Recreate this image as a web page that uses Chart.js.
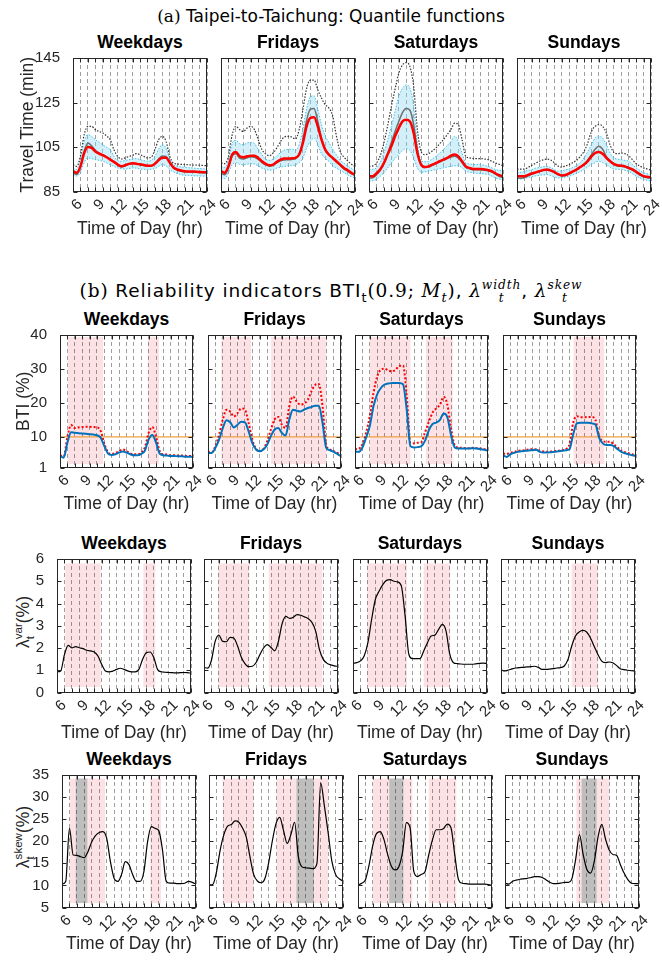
<!DOCTYPE html>
<html>
<head>
<meta charset="utf-8">
<title>Taipei-to-Taichung travel time reliability</title>
<script src="https://cdn.jsdelivr.net/npm/chart.js@4.4.1/dist/chart.umd.min.js"></script>
<style>
  body { margin: 0; background: #fff; }
  #fig { position: relative; width: 662px; height: 960px; overflow: hidden;
         font-family: "Liberation Sans", Arial, sans-serif; color: #262626; }
  #fig canvas { position: absolute; }
  .heading { position: absolute; left: 0; width: 662px; text-align: center; white-space: nowrap;
             font-family: "DejaVu Sans", sans-serif; line-height: 22px; color: #000; }
  .heading .rm { font-family: "DejaVu Serif", "Liberation Serif", serif; }
  .heading .it { font-family: "DejaVu Serif", "Liberation Serif", serif; font-style: italic; }
  .ptitle { position: absolute; text-align: center; font-weight: bold; font-size: 17.5px;
            line-height: 17.5px; color: #000; white-space: nowrap; }
  .ylab { position: absolute; transform: translate(-50%, -50%) rotate(-90deg);
          white-space: nowrap; font-size: 17.5px; line-height: 20px; color: #262626; }
  .ss { display: inline-flex; flex-direction: column; vertical-align: middle;
        font-size: 0.66em; line-height: 1.05; }
  .ss sup, .ss sub { vertical-align: baseline; font-size: 1em; line-height: 1.05; }
</style>
</head>
<body>
<div id="fig">
  <div class="heading" style="top:5px;font-size:17px"><span class="rm">(a)</span> Taipei-to-Taichung: Quantile functions</div>
  <div class="heading" style="top:279px;font-size:18.5px;letter-spacing:0.9px"><span class="rm">(b)</span> Reliability indicators BTI<sub style="font-size:0.7em">t</sub><span class="rm">(0.9; </span><span class="it">M</span><sub class="it" style="font-size:0.7em">t</sub><span class="rm">)</span>, <span class="it">λ</span><span class="ss it"><sup>width</sup><sub>t</sub></span>, <span class="it">λ</span><span class="ss it"><sup>skew</sup><sub>t</sub></span></div>
  <div class="ylab" style="left:24px;top:622px">λ<span class="ss"><sup>var</sup><sub>t</sub></span>(%)</div>
  <div class="ylab" style="left:24px;top:837px">λ<span class="ss"><sup>skew</sup><sub>t</sub></span>(%)</div>
</div>
<script>
// time axis, half-hour steps
var HOURS = [6, 6.5, 7, 7.5, 8, 8.5, 9, 9.5, 10, 10.5, 11, 11.5, 12, 12.5, 13, 13.5, 14, 14.5,
  15, 15.5, 16, 16.5, 17, 17.5, 18, 18.5, 19, 19.5, 20, 20.5, 21, 21.5, 22, 22.5, 23, 23.5, 24];
var X_MIN = 6, X_MAX = 24;
var xLabelHours = [6, 9, 12, 15, 18, 21, 24];
var DAY_NAMES = ['Weekdays', 'Fridays', 'Saturdays', 'Sundays'];

// y tick labels per row
var ttTicks = [85, 105, 125, 145];
var btiTicks = [1, 10, 20, 30, 40];
var varTicks = [0, 1, 2, 3, 4, 5, 6];
var skewTicks = [5, 10, 15, 20, 25, 30, 35];

// (a) travel time quantile functions (min)
var ttMedianWeekdays = [94.1, 93.4, 96.3, 102.3, 105.0, 104.6, 103.0, 102.0, 101.3, 100.4, 99.3, 98.3, 97.1, 96.3, 96.8, 97.4, 97.7, 97.5, 97.2, 96.9, 96.6, 96.6, 97.5, 99.0, 100.2, 100.2, 98.0, 95.8, 94.9, 94.4, 94.1, 94.0, 94.0, 93.9, 93.8, 93.7, 93.7];
var ttMeanWeekdays = [93.5, 92.6, 96.0, 103.0, 106.8, 105.5, 103.5, 102.3, 101.5, 100.6, 99.5, 98.4, 97.0, 96.0, 96.5, 97.2, 97.6, 97.4, 97.0, 96.7, 96.4, 96.5, 97.6, 99.6, 101.0, 100.8, 98.2, 95.6, 94.6, 94.1, 93.9, 93.8, 93.7, 93.6, 93.5, 93.4, 93.4];
var ttQ95Weekdays = [97.1, 96.3, 101.0, 110.5, 114.3, 114.3, 112.8, 112.0, 111.3, 110.0, 108.3, 103.8, 100.8, 99.6, 100.1, 100.7, 101.3, 102.0, 101.6, 100.8, 100.1, 100.4, 103.8, 108.3, 109.8, 107.5, 100.8, 97.8, 97.4, 97.2, 97.1, 97.0, 96.9, 96.9, 96.8, 96.7, 96.6];
var ttQ75Weekdays = [95.6, 94.9, 100.0, 107.5, 110.5, 109.8, 108.3, 107.2, 106.0, 104.9, 103.8, 100.8, 98.9, 98.6, 98.9, 99.3, 99.6, 99.8, 99.3, 98.9, 98.6, 99.0, 100.8, 104.0, 106.0, 104.5, 99.5, 97.0, 96.3, 96.0, 95.9, 95.7, 95.6, 95.4, 95.3, 95.2, 95.1];
var ttQ25Weekdays = [92.6, 91.9, 93.8, 98.0, 100.1, 99.8, 99.3, 99.0, 98.6, 97.9, 97.1, 96.3, 95.6, 95.2, 95.1, 95.3, 95.6, 95.5, 95.1, 95.0, 94.9, 95.0, 95.3, 96.2, 97.1, 96.5, 94.9, 93.8, 93.1, 92.6, 92.3, 92.2, 92.1, 92.0, 92.0, 91.9, 91.9];

var ttMedianFridays = [94.1, 93.4, 96.3, 101.6, 102.8, 100.8, 100.4, 100.8, 101.1, 101.1, 100.1, 98.6, 97.4, 96.8, 97.1, 98.3, 99.3, 99.8, 99.8, 99.9, 100.1, 101.6, 106.8, 114.3, 118.0, 118.4, 114.3, 108.3, 103.8, 101.6, 100.1, 98.6, 97.1, 95.6, 94.6, 93.4, 92.6];
var ttMeanFridays = [93.0, 92.5, 95.8, 101.0, 102.0, 100.0, 99.6, 100.2, 100.6, 100.4, 99.4, 98.0, 97.0, 96.4, 96.8, 98.0, 98.8, 99.2, 99.3, 99.4, 99.8, 101.8, 108.0, 117.0, 122.0, 122.3, 116.5, 109.0, 104.0, 101.5, 99.8, 98.2, 96.8, 95.2, 94.2, 93.0, 92.2];
var ttQ95Fridays = [97.8, 97.5, 100.8, 110.5, 114.3, 112.8, 112.0, 113.5, 114.3, 112.8, 108.3, 103.8, 101.9, 101.1, 102.3, 104.6, 107.5, 109.5, 109.8, 109.5, 108.6, 112.8, 121.7, 131.4, 135.1, 135.1, 130.7, 127.0, 124.0, 122.5, 119.0, 110.0, 103.0, 100.5, 98.8, 97.3, 96.3];
var ttQ75Fridays = [96.3, 95.8, 99.0, 106.5, 108.0, 106.5, 106.0, 106.8, 107.0, 106.5, 104.0, 101.5, 99.5, 99.0, 99.6, 101.0, 102.5, 103.5, 104.0, 104.0, 103.5, 106.0, 113.0, 122.0, 127.5, 128.0, 122.0, 115.0, 110.0, 107.0, 104.0, 101.5, 99.0, 97.8, 96.5, 95.5, 94.5];
var ttQ25Fridays = [91.0, 90.8, 93.5, 97.0, 98.0, 97.2, 97.0, 97.3, 97.5, 97.3, 96.5, 95.5, 95.0, 94.6, 94.8, 95.5, 96.0, 96.3, 96.5, 96.6, 97.0, 98.0, 100.0, 104.5, 107.5, 109.0, 106.0, 102.0, 100.0, 98.5, 96.5, 95.5, 94.5, 93.5, 92.5, 91.7, 91.0];

var ttMedianSaturdays = [91.9, 91.9, 93.1, 94.9, 97.8, 101.6, 105.3, 109.8, 113.5, 116.5, 117.2, 116.5, 111.3, 102.3, 97.1, 96.0, 96.3, 97.1, 97.8, 98.6, 99.3, 100.1, 101.1, 101.6, 100.8, 98.6, 96.3, 95.6, 95.1, 95.1, 95.1, 94.9, 94.6, 94.1, 93.1, 92.3, 91.9];
var ttMeanSaturdays = [91.1, 91.2, 92.5, 94.5, 97.5, 102.0, 107.0, 112.0, 116.5, 120.5, 122.3, 121.5, 115.0, 103.5, 97.0, 95.8, 96.0, 96.8, 97.5, 98.3, 99.0, 99.8, 100.5, 100.8, 100.0, 98.0, 95.8, 95.2, 94.8, 94.8, 94.8, 94.6, 94.3, 93.8, 92.8, 91.8, 91.2];
var ttQ95Saturdays = [96.3, 96.5, 97.8, 101.0, 106.8, 114.5, 123.2, 131.0, 138.1, 141.9, 142.9, 141.1, 132.2, 112.8, 103.0, 101.6, 102.0, 103.2, 104.6, 106.5, 108.3, 110.5, 112.8, 115.7, 115.0, 108.3, 100.8, 100.1, 99.8, 99.8, 99.8, 99.6, 99.3, 98.6, 97.8, 97.2, 96.6];
var ttQ75Saturdays = [94.9, 95.0, 95.6, 98.0, 102.3, 108.0, 114.3, 121.0, 127.7, 131.4, 132.9, 131.4, 123.2, 106.8, 98.6, 98.4, 98.6, 99.6, 100.8, 102.3, 103.8, 105.6, 107.5, 109.8, 107.5, 102.3, 97.8, 97.4, 97.1, 97.1, 97.1, 96.7, 96.3, 95.6, 94.9, 94.5, 94.1];
var ttQ25Saturdays = [89.6, 89.8, 90.4, 91.8, 93.4, 95.5, 97.8, 99.8, 101.6, 103.5, 104.3, 103.5, 100.1, 95.6, 93.7, 93.8, 94.1, 94.5, 94.9, 95.2, 95.6, 96.0, 96.3, 96.5, 96.6, 95.6, 94.1, 93.7, 93.4, 93.2, 93.1, 92.9, 92.6, 91.9, 91.1, 90.6, 90.1];

var ttMedianSundays = [91.9, 91.8, 91.9, 92.5, 93.1, 93.6, 94.1, 94.6, 94.9, 94.5, 93.8, 92.8, 92.2, 92.4, 93.1, 94.0, 94.9, 96.0, 97.1, 98.6, 100.8, 102.3, 102.8, 102.0, 100.1, 98.6, 97.4, 96.8, 96.6, 96.3, 95.6, 94.9, 93.9, 92.8, 91.9, 91.6, 91.4];
var ttMeanSundays = [91.1, 91.0, 91.3, 92.0, 92.8, 93.4, 94.0, 94.5, 94.8, 94.4, 93.6, 92.6, 92.0, 92.2, 92.9, 93.8, 94.7, 95.9, 97.2, 99.2, 101.6, 104.0, 105.3, 104.0, 100.8, 98.8, 97.2, 96.5, 96.3, 96.0, 95.3, 94.6, 93.5, 92.4, 91.5, 91.2, 91.0];
var ttQ95Sundays = [95.1, 95.1, 95.1, 95.9, 96.8, 97.7, 98.6, 99.2, 99.6, 99.2, 98.0, 96.5, 96.0, 96.5, 97.1, 98.0, 99.0, 100.8, 103.0, 106.8, 112.0, 114.3, 115.1, 114.3, 111.3, 106.0, 102.6, 102.0, 102.3, 102.0, 101.1, 99.3, 97.5, 96.5, 95.6, 95.1, 94.6];
var ttQ75Sundays = [93.4, 93.6, 94.0, 94.5, 94.9, 95.5, 95.8, 96.1, 96.3, 95.8, 95.0, 94.1, 94.3, 94.7, 95.1, 95.8, 96.6, 98.0, 100.1, 103.0, 106.0, 109.0, 110.0, 109.0, 106.0, 102.3, 100.1, 99.6, 99.3, 99.0, 98.6, 97.2, 95.6, 94.5, 93.4, 93.0, 92.6];
var ttQ25Sundays = [90.7, 90.6, 90.9, 91.3, 91.6, 92.0, 92.3, 92.5, 92.6, 92.2, 91.6, 91.1, 91.2, 91.5, 91.9, 92.5, 93.1, 94.0, 94.9, 96.0, 97.1, 98.0, 98.6, 98.0, 97.1, 96.0, 95.1, 95.0, 94.9, 94.5, 94.1, 93.0, 91.9, 91.1, 90.4, 90.0, 89.6];

// (b) buffer time index (%)
var BTI_REF = 10;
var btiWeekdays = [4.4, 3.9, 8.3, 11.4, 11.2, 11.1, 11.0, 10.9, 10.8, 10.7, 10.5, 9.8, 7.3, 5.1, 4.7, 4.9, 5.4, 5.7, 5.4, 4.9, 4.6, 4.6, 5.0, 6.0, 9.3, 10.6, 8.3, 5.1, 4.6, 4.5, 4.4, 4.4, 4.3, 4.3, 4.2, 4.2, 4.1];
var btiUpWeekdays = [4.6, 4.3, 10.0, 13.5, 12.6, 12.8, 12.9, 13.0, 13.0, 12.9, 12.8, 11.8, 8.0, 5.5, 5.0, 5.3, 5.8, 6.3, 5.8, 5.2, 4.9, 4.9, 5.4, 7.0, 11.2, 12.9, 10.0, 5.8, 4.9, 4.8, 4.6, 4.6, 4.5, 4.5, 4.4, 4.4, 4.3];
var btiFridays = [5.3, 5.3, 6.8, 9.2, 12.6, 14.9, 14.3, 12.8, 13.6, 14.5, 14.3, 11.6, 8.2, 6.3, 5.8, 6.3, 7.7, 10.2, 12.1, 12.6, 11.2, 10.4, 15.1, 18.0, 17.7, 17.5, 18.0, 18.5, 18.8, 19.2, 19.2, 14.1, 6.8, 6.1, 5.6, 5.0, 4.3];
var btiUpFridays = [5.5, 5.5, 7.3, 10.7, 15.1, 18.0, 17.5, 16.0, 17.0, 18.4, 18.0, 14.1, 9.2, 6.5, 5.8, 6.5, 8.7, 12.1, 15.1, 15.9, 13.6, 12.6, 19.0, 21.9, 20.4, 19.5, 19.8, 20.9, 23.4, 25.3, 25.6, 19.0, 7.7, 6.3, 5.8, 5.3, 4.8];
var btiSaturdays = [5.6, 5.6, 6.9, 9.8, 13.2, 19.0, 22.5, 24.4, 25.4, 25.7, 25.9, 25.9, 25.9, 25.5, 18.0, 7.3, 6.9, 7.0, 7.3, 9.0, 12.0, 13.8, 14.2, 15.0, 16.9, 15.8, 10.5, 6.9, 6.6, 6.6, 6.6, 6.6, 6.7, 6.6, 6.4, 6.2, 6.0];
var btiUpSaturdays = [6.4, 6.5, 7.8, 11.2, 16.1, 22.9, 27.8, 29.8, 30.1, 29.6, 29.3, 29.8, 30.9, 31.0, 22.0, 8.3, 8.1, 8.3, 8.5, 11.5, 14.5, 17.2, 18.4, 19.5, 21.8, 19.5, 12.5, 7.5, 6.9, 6.8, 6.7, 6.7, 6.8, 6.7, 6.6, 6.4, 6.2];
var btiSundays = [4.6, 4.1, 4.9, 5.3, 5.6, 5.8, 5.9, 6.0, 6.1, 6.2, 5.6, 5.4, 5.4, 5.5, 5.6, 5.8, 5.9, 6.1, 6.4, 10.8, 14.0, 14.2, 14.2, 14.2, 14.0, 13.7, 9.8, 8.1, 7.6, 7.6, 7.3, 6.4, 5.6, 5.2, 4.9, 4.6, 4.4];
var btiUpSundays = [5.1, 5.0, 5.4, 5.6, 5.9, 6.0, 6.1, 6.3, 6.4, 6.3, 5.9, 5.7, 5.6, 5.7, 5.8, 5.9, 6.1, 6.4, 7.8, 14.2, 16.1, 15.8, 15.8, 15.9, 15.9, 15.1, 10.3, 8.8, 8.6, 8.6, 7.8, 6.9, 5.9, 5.5, 5.2, 4.9, 4.7];

// (b) width indicator (%)
var varWeekdays = [0.93, 0.97, 1.70, 2.12, 2.01, 2.06, 2.01, 1.97, 1.90, 1.87, 1.82, 1.64, 1.27, 0.97, 0.93, 0.96, 1.04, 1.09, 1.04, 0.97, 0.93, 0.93, 1.04, 1.49, 1.79, 1.82, 1.57, 1.04, 0.93, 0.91, 0.90, 0.89, 0.88, 0.89, 0.90, 0.89, 0.87];
var varFridays = [1.12, 1.10, 1.45, 2.30, 2.58, 2.30, 2.28, 2.48, 2.45, 2.10, 1.60, 1.30, 1.16, 1.18, 1.35, 1.70, 2.00, 2.15, 2.02, 1.87, 2.30, 3.10, 3.42, 3.33, 3.38, 3.50, 3.47, 3.40, 3.32, 3.15, 2.76, 1.94, 1.50, 1.32, 1.24, 1.20, 1.17];
var varSaturdays = [1.31, 1.34, 1.42, 1.64, 2.24, 3.28, 4.18, 4.55, 4.85, 5.04, 5.07, 5.00, 4.97, 4.78, 3.43, 1.72, 1.52, 1.52, 1.52, 1.87, 2.24, 2.54, 2.58, 2.84, 3.06, 2.76, 1.72, 1.34, 1.30, 1.28, 1.27, 1.27, 1.27, 1.29, 1.31, 1.32, 1.30];
var varSundays = [1.01, 0.97, 1.01, 1.06, 1.10, 1.12, 1.13, 1.15, 1.16, 1.18, 1.13, 1.04, 1.04, 1.05, 1.07, 1.10, 1.12, 1.19, 1.49, 2.09, 2.54, 2.72, 2.79, 2.72, 2.46, 2.09, 1.72, 1.42, 1.34, 1.37, 1.34, 1.22, 1.07, 1.03, 1.00, 0.98, 0.97];

// (b) skew indicator (%)
var skewWeekdays = [10.3, 10.9, 22.9, 16.9, 16.8, 16.5, 16.3, 17.7, 19.9, 21.3, 22.0, 22.2, 20.7, 15.4, 11.6, 10.9, 12.5, 15.4, 14.7, 12.4, 10.9, 10.9, 13.1, 19.9, 23.3, 22.9, 22.4, 18.0, 10.9, 10.5, 10.5, 10.4, 10.4, 10.5, 10.9, 10.7, 10.3];
var skewFridays = [10.1, 10.2, 13.0, 18.0, 21.5, 23.4, 23.8, 24.6, 24.3, 23.0, 21.0, 16.5, 12.5, 11.0, 10.6, 11.5, 15.0, 20.0, 24.0, 25.4, 22.5, 19.5, 21.5, 24.3, 16.5, 14.2, 14.0, 13.9, 13.8, 15.0, 33.2, 28.0, 22.0, 15.5, 12.5, 11.5, 11.0];
var skewSaturdays = [10.1, 10.5, 11.3, 14.7, 19.2, 21.8, 22.2, 20.3, 16.9, 14.3, 13.5, 14.3, 17.7, 24.2, 23.0, 13.1, 12.0, 12.5, 13.1, 16.9, 20.3, 22.6, 22.6, 22.9, 23.9, 23.0, 16.9, 11.3, 10.5, 10.4, 10.3, 10.3, 10.3, 10.3, 10.3, 10.2, 10.0];
var skewSundays = [10.5, 10.3, 10.9, 11.2, 11.4, 11.5, 11.6, 11.8, 12.0, 12.0, 11.8, 11.3, 10.7, 10.4, 10.4, 10.5, 10.7, 10.7, 11.6, 16.0, 21.5, 17.0, 13.6, 12.8, 15.5, 21.0, 23.8, 20.5, 18.0, 17.0, 16.8, 14.7, 12.8, 11.3, 10.5, 10.4, 10.4];

// flagged periods, [start hour, end hour]
var btiFlagWeekdays = [[7.1, 11.85], [17.9, 19.4]];
var btiFlagFridays = [[7.8, 11.85], [14.55, 22.0]];
var btiFlagSaturdays = [[8.0, 13.5], [15.6, 19.2]];
var btiFlagSundays = [[15.55, 19.7]];
var varFlagWeekdays = [[7.1, 11.85], [17.6, 19.2]];
var varFlagFridays = [[7.9, 12.1], [14.7, 21.9]];
var varFlagSaturdays = [[7.9, 13.25], [15.5, 19.05]];
var varFlagSundays = [[15.5, 19.05]];
var skewFlagWeekdays = [[7.05, 11.8], [17.85, 19.3]];
var skewFlagFridays = [[7.85, 12.0], [15.1, 22.0]];
var skewFlagSaturdays = [[8.0, 13.3], [15.5, 19.2]];
var skewFlagSundays = [[15.6, 20.0]];
var skewLowWeekdays = [[7.85, 9.4]];
var skewLowFridays = [[17.75, 20.1]];
var skewLowSaturdays = [[10.2, 12.1]];
var skewLowSundays = [[16.3, 18.3]];

var TEXT = '#262626';
var GRID = 'rgba(0,0,0,0.38)';
var PINK = 'rgb(252,226,228)';
var GREYBOX = 'rgb(190,190,190)';

Chart.defaults.font.family = '"Liberation Sans", Arial, sans-serif';
Chart.defaults.color = TEXT;

// shaded spans under the grid, box with inward ticks on top
var matlabAxes = {
  id: 'matlabAxes',
  beforeDraw: function (chart, args, opts) {
    var ctx = chart.ctx, xs = chart.scales.x, ys = chart.scales.y;
    (opts.spans || []).forEach(function (s) {
      var yTop = ys.getPixelForValue(s.yRange[1]);
      var yBot = ys.getPixelForValue(s.yRange[0]);
      ctx.save();
      ctx.fillStyle = s.color;
      s.data.forEach(function (r) {
        var x0 = xs.getPixelForValue(r[0]), x1 = xs.getPixelForValue(r[1]);
        ctx.fillRect(x0, yTop, x1 - x0, yBot - yTop);
      });
      ctx.restore();
    });
  },
  afterDraw: function (chart) {
    var ctx = chart.ctx, a = chart.chartArea, xs = chart.scales.x, ys = chart.scales.y;
    var l = Math.round(a.left) + 0.5, r = Math.round(a.right) - 0.5;
    var t = Math.round(a.top) + 0.5, b = Math.round(a.bottom) - 0.5;
    ctx.save();
    ctx.strokeStyle = TEXT;
    ctx.lineWidth = 1;
    ctx.beginPath();
    xs.ticks.forEach(function (tk) {
      var px = Math.round(xs.getPixelForValue(tk.value)) + 0.5;
      ctx.moveTo(px, b); ctx.lineTo(px, b - 4);
      ctx.moveTo(px, t); ctx.lineTo(px, t + 4);
    });
    ys.ticks.forEach(function (tk) {
      var py = Math.round(ys.getPixelForValue(tk.value)) + 0.5;
      ctx.moveTo(l, py); ctx.lineTo(l + 4, py);
      ctx.moveTo(r, py); ctx.lineTo(r - 4, py);
    });
    ctx.stroke();
    ctx.strokeRect(l, t, r - l, b - t);
    ctx.restore();
  }
};
Chart.register(matlabAxes);

var fig = document.getElementById('fig');

var ROW_GEOM = [
  { top: 58, height: 134, width: 134, lefts: [73, 221, 369, 517], titleGap: 38 },
  { top: 335, height: 133, width: 133, lefts: [60, 208, 355, 503], titleGap: 37 },
  { top: 559, height: 134, width: 134, lefts: [57, 204, 353, 501], titleGap: 41 },
  { top: 775, height: 133, width: 134, lefts: [62, 209, 358, 505], titleGap: 37 }
];

function pts(values) {
  return HOURS.map(function (h, i) { return { x: h, y: values[i] }; });
}

function line(values, color, width, dash, extra) {
  var ds = {
    data: pts(values),
    borderColor: color,
    borderWidth: width,
    borderDash: dash || [],
    pointRadius: 0,
    cubicInterpolationMode: 'monotone',
    fill: false
  };
  for (var k in extra) ds[k] = extra[k];
  return ds;
}

function hourTicks() {
  var out = [];
  for (var h = X_MIN; h <= X_MAX; h++) out.push({ value: h });
  return out;
}

// Chart.js draws dataset 0 on top, so datasets are listed top-first
function addPanel(row, col, cfg) {
  var g = ROW_GEOM[row];
  var W = g.width, H = g.height, left = g.lefts[col], top = g.top;
  var L = col === 0 ? left : 10, R = 18, T = 14;
  var B = g.titleGap + 10.5;

  var title = document.createElement('div');
  title.className = 'ptitle';
  title.style.left = left + 'px';
  title.style.width = W + 'px';
  title.style.top = (top - 24) + 'px';
  title.textContent = DAY_NAMES[col];
  fig.appendChild(title);

  var canvas = document.createElement('canvas');
  canvas.width = L + W + R;
  canvas.height = T + H + B;
  canvas.style.left = (left - L) + 'px';
  canvas.style.top = (top - T) + 'px';
  fig.appendChild(canvas);

  var yt = cfg.yTicks;
  new Chart(canvas, {
    type: 'line',
    data: { datasets: cfg.datasets },
    options: {
      responsive: false,
      animation: false,
      events: [],
      layout: { autoPadding: false, padding: { top: T, right: R, left: 0, bottom: 0 } },
      plugins: {
        legend: { display: false },
        tooltip: { enabled: false },
        matlabAxes: { spans: cfg.spans || [] }
      },
      scales: {
        x: {
          type: 'linear',
          min: X_MIN,
          max: X_MAX,
          afterBuildTicks: function (s) { s.ticks = hourTicks(); },
          afterFit: function (s) { s.height = B; },
          ticks: {
            autoSkip: false,
            minRotation: 45,
            maxRotation: 45,
            padding: 4,
            labelOffset: 7,
            color: TEXT,
            font: { size: 15 },
            callback: function (v) { return xLabelHours.indexOf(v) >= 0 ? String(v) : ''; }
          },
          grid: { color: GRID, lineWidth: 1, drawTicks: false },
          border: { display: false, dash: [4, 3] },
          title: {
            display: true,
            text: 'Time of Day (hr)',
            color: TEXT,
            font: { size: 17.5 },
            padding: { top: 0, bottom: 0 }
          }
        },
        y: {
          type: 'linear',
          min: yt[0],
          max: yt[yt.length - 1],
          afterBuildTicks: function (s) { s.ticks = yt.map(function (v) { return { value: v }; }); },
          afterFit: function (s) { s.width = L; },
          ticks: { display: col === 0, autoSkip: false, padding: 5, color: TEXT, font: { size: 15 } },
          grid: { display: false },
          border: { display: false },
          title: (col === 0 && cfg.yTitle) ? {
            display: true,
            text: cfg.yTitle,
            color: TEXT,
            font: { size: 17.5 },
            padding: { top: cfg.yTitlePad, bottom: 0 }
          } : { display: false }
        }
      }
    }
  });
}

// row (a): quantile bands
var ttSets = [
  [ttQ95Weekdays, ttQ75Weekdays, ttQ25Weekdays, ttMeanWeekdays, ttMedianWeekdays],
  [ttQ95Fridays, ttQ75Fridays, ttQ25Fridays, ttMeanFridays, ttMedianFridays],
  [ttQ95Saturdays, ttQ75Saturdays, ttQ25Saturdays, ttMeanSaturdays, ttMedianSaturdays],
  [ttQ95Sundays, ttQ75Sundays, ttQ25Sundays, ttMeanSundays, ttMedianSundays]
];
ttSets.forEach(function (s, col) {
  addPanel(0, col, {
    yTicks: ttTicks,
    yTitle: 'Travel Time (min)',
    yTitlePad: 17.5,
    datasets: [
      line(s[4], '#ff0000', 2.5),
      line(s[3], '#6e6e6e', 1.5),
      line(s[0], '#333333', 1.2, [1.5, 1.5]),
      line(s[2], '#3ec3ea', 1, [1.5, 1.5]),
      line(s[1], '#3ec3ea', 1, [1.5, 1.5], { fill: '-1', backgroundColor: 'rgba(140,212,240,0.38)' })
    ]
  });
});

// row (b1): BTI
var btiSets = [
  [btiWeekdays, btiUpWeekdays, btiFlagWeekdays],
  [btiFridays, btiUpFridays, btiFlagFridays],
  [btiSaturdays, btiUpSaturdays, btiFlagSaturdays],
  [btiSundays, btiUpSundays, btiFlagSundays]
];
btiSets.forEach(function (s, col) {
  addPanel(1, col, {
    yTicks: btiTicks,
    yTitle: 'BTI (%)',
    yTitlePad: 13.5,
    spans: [{ data: s[2], color: PINK, yRange: [2.0, 39.4] }],
    datasets: [
      line(s[0], '#0072bd', 2),
      line(s[1], '#ff0000', 2, [2, 2]),
      {
        data: [{ x: X_MIN, y: BTI_REF }, { x: X_MAX, y: BTI_REF }],
        borderColor: '#f0a040', borderWidth: 1.3, pointRadius: 0, fill: false
      }
    ]
  });
});

// row (b2): width indicator
var varSets = [
  [varWeekdays, varFlagWeekdays],
  [varFridays, varFlagFridays],
  [varSaturdays, varFlagSaturdays],
  [varSundays, varFlagSundays]
];
varSets.forEach(function (s, col) {
  addPanel(2, col, {
    yTicks: varTicks,
    spans: [{ data: s[1], color: PINK, yRange: [0.25, 5.8] }],
    datasets: [line(s[0], '#000000', 1.2)]
  });
});

// row (b3): skew indicator
var skewSets = [
  [skewWeekdays, skewFlagWeekdays, skewLowWeekdays],
  [skewFridays, skewFlagFridays, skewLowFridays],
  [skewSaturdays, skewFlagSaturdays, skewLowSaturdays],
  [skewSundays, skewFlagSundays, skewLowSundays]
];
skewSets.forEach(function (s, col) {
  addPanel(3, col, {
    yTicks: skewTicks,
    spans: [
      { data: s[1], color: PINK, yRange: [6.0, 34.2] },
      { data: s[2], color: GREYBOX, yRange: [6.0, 34.2] }
    ],
    datasets: [line(s[0], '#000000', 1.2)]
  });
});
</script>
</body>
</html>
